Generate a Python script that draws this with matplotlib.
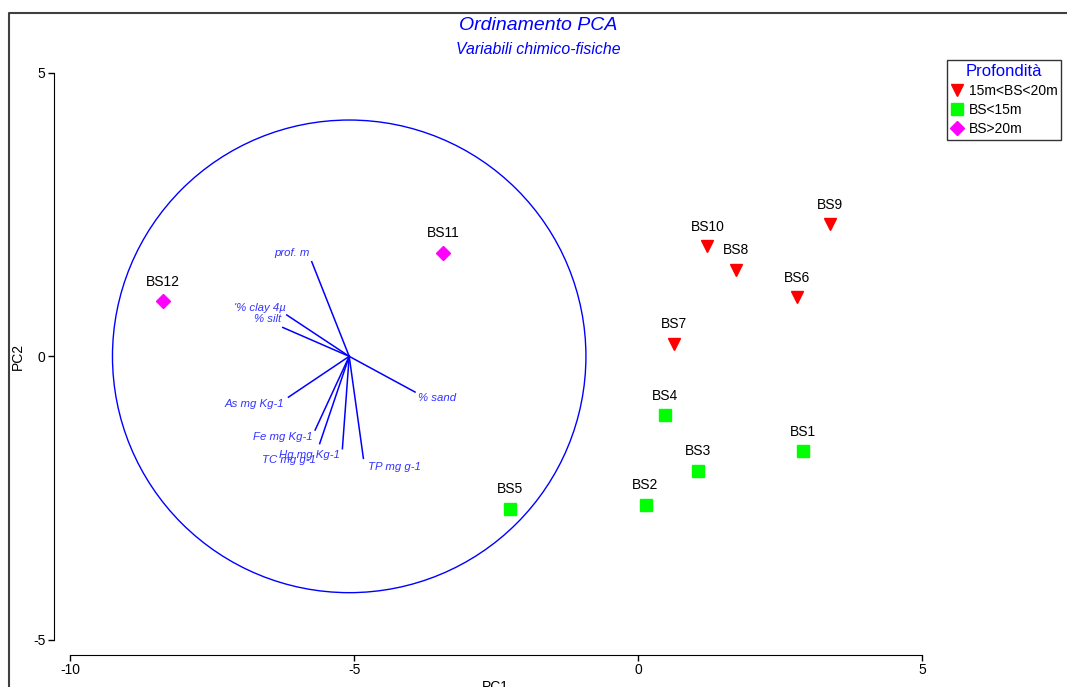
import numpy as np
import matplotlib
matplotlib.use("Agg")
import matplotlib.pyplot as plt
from matplotlib.patches import Circle
from matplotlib.lines import Line2D

plt.rcParams["font.family"] = ["Liberation Sans", "DejaVu Sans"]

# sample scores (PC1, PC2) by depth group
groups = ["15m<BS<20m", "BS<15m", "BS>20m"]
names_mid = ["BS6", "BS7", "BS8", "BS9", "BS10"]
pc1_mid = [2.80, 0.63, 1.73, 3.38, 1.22]
pc2_mid = [1.04, 0.22, 1.53, 2.33, 1.94]

names_shallow = ["BS1", "BS2", "BS3", "BS4", "BS5"]
pc1_shallow = [2.91, 0.13, 1.05, 0.48, -2.26]
pc2_shallow = [-1.67, -2.62, -2.02, -1.04, -2.69]

names_deep = ["BS11", "BS12"]
pc1_deep = [-3.43, -8.37]
pc2_deep = [1.83, 0.97]

# variable vectors (relative to circle centre)
var_names = ["prof. m", "'% clay 4\u00b5", "% silt", "% sand", "As mg Kg-1",
             "Fe mg Kg-1", "TC mg g-1", "Hg mg Kg-1", "TP mg g-1"]
var_x = [-0.66, -1.10, -1.17, 1.16, -1.07, -0.60, -0.52, -0.12, 0.25]
var_y = [1.67, 0.73, 0.51, -0.63, -0.72, -1.30, -1.54, -1.63, -1.80]
circle_x, circle_y, circle_r = -5.09, 0.0, 4.17

# label offsets in points and alignment
var_off = [(-1.5, 6), (-1, 5), (-1.5, 6), (2, -4), (-3, -5),
           (-2, -5), (-3, -12), (-2, -4.5), (3, -6)]
var_ha = ["right", "right", "right", "left", "right",
          "right", "right", "right", "left"]

W, H = 1067, 687
fig = plt.figure(figsize=(W / 100, H / 100), dpi=100)
ax = fig.add_axes([54 / W, 1 - 655 / H, (922 - 54) / W, (655 - 73) / H])
ax.set_xlim(-10.29, 5.0)
ax.set_ylim(-5.27, 5.0)

blue = "#0000FF"
ax.add_patch(Circle((circle_x, circle_y), circle_r, fill=False, ec=blue, lw=1))
for n, vx, vy, off, ha in zip(var_names, var_x, var_y, var_off, var_ha):
    ax.plot([circle_x, circle_x + vx], [circle_y, circle_y + vy], color=blue, lw=1.1)
    ax.annotate(n, (circle_x + vx, circle_y + vy), xytext=off, textcoords="offset points",
                ha=ha, va="center", fontsize=8.2, style="italic", color="#3333FF")

h1, = ax.plot(pc1_mid, pc2_mid, "v", color="#FF0000", ms=9, ls="none", label=groups[0])
h2, = ax.plot(pc1_shallow, pc2_shallow, "s", color="#00FF00", ms=8.6, ls="none", label=groups[1])
h3, = ax.plot(pc1_deep, pc2_deep, "D", color="#FF00FF", ms=6.8, ls="none", label=groups[2])

for names, xs, ys in [(names_mid, pc1_mid, pc2_mid),
                      (names_shallow, pc1_shallow, pc2_shallow),
                      (names_deep, pc1_deep, pc2_deep)]:
    for n, x, y in zip(names, xs, ys):
        ax.annotate(n, (x, y), xytext=(0, 14), textcoords="offset points",
                    ha="center", va="center", fontsize=10, color="black")

for s in ["top", "right"]:
    ax.spines[s].set_visible(False)
ax.spines["left"].set_bounds(-5, 5)
ax.spines["bottom"].set_bounds(-10, 5)
ax.set_xticks([-10, -5, 0, 5])
ax.set_yticks([-5, 0, 5])
ax.set_xticklabels(["-10", "-5", "0", "5"])
ax.set_yticklabels(["-5", "0", "5"])
ax.tick_params(length=4, width=1, labelsize=10, pad=2)

fig.text(18 / W, 1 - 356 / H, "PC2", rotation=90, ha="center", va="center", fontsize=10)
fig.text(495 / W, 1 - 680 / H, "PC1", ha="center", va="top", fontsize=10)

fig.text(538 / W, 1 - 26 / H, "Ordinamento PCA", ha="center", va="center",
         fontsize=14, style="italic", color=blue)
fig.text(538 / W, 1 - 49 / H, "Variabili chimico-fisiche", ha="center", va="center",
         fontsize=11.4, style="italic", color=blue)

# outer frame (left and top edges)
fig.add_artist(Line2D([9 / W, 9 / W, 1.0], [0.0, 1 - 13 / H, 1 - 13 / H],
                      transform=fig.transFigure, color="#404040", lw=1.5))

leg = fig.legend(handles=[h1, h2, h3], loc="upper left",
                 bbox_to_anchor=(947 / W, 1 - 60 / H), title="Profondità",
                 fontsize=10, title_fontsize=12, frameon=True, fancybox=False,
                 handlelength=0.9, handletextpad=0.35, borderpad=0.3,
                 labelspacing=0.35, borderaxespad=0)
leg.get_title().set_color(blue)
leg.get_frame().set_edgecolor("black")
leg.get_frame().set_linewidth(1)

fig.savefig("out.png", dpi=100)
